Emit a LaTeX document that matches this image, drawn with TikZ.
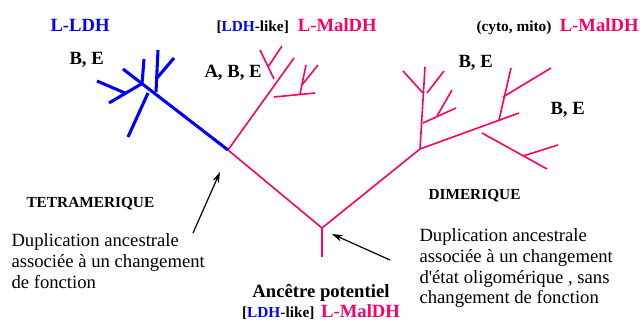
\documentclass[tikz,border=0pt]{standalone}
\usepackage{fontspec}
\setmainfont{Liberation Serif}
\usetikzlibrary{positioning,arrows.meta}
\definecolor{maldh}{RGB}{255,0,102}
\tikzset{every picture/.style={line width=0.75pt}}

\begin{document}
\begin{tikzpicture}[x=0.75pt,y=0.75pt,yscale=-1,xscale=1,
  pinkbr/.style={draw=maldh,line width=1.2pt},
  bluebr/.style={draw=blue,line width=2.3pt},
  bigtxt/.style={anchor=base west,inner sep=0pt,font=\bfseries\fontsize{14}{16}\selectfont},
  smalltxt/.style={anchor=base west,inner sep=0pt,font=\bfseries\fontsize{11.5}{13}\selectfont},
  paratxt/.style={anchor=north west,inner sep=0pt,align=left,font=\fontsize{14}{15.6}\selectfont},
  pointer/.style={draw=black,line width=0.9pt,-{Stealth[length=8pt,width=5pt]}}]
\useasboundingbox (0,0) rectangle (641,323);

%Tree junctions
\coordinate (root) at (322,228);
\coordinate (stem) at (322,257);
\coordinate (jleft) at (228,150);
\coordinate (jright) at (420,149);

%Straight Lines: stem and main branches
\draw [pinkbr] (root) -- (stem);
\draw [pinkbr] (root) -- (jleft);
\draw [pinkbr] (root) -- (jright);

%Straight Lines: A, B, E branch
\draw [pinkbr] (jleft) -- (294,58);
\draw [pinkbr] (260,50) -- (274,79);
\draw [pinkbr] (268,67) -- (282,46);
\draw [pinkbr] (274,97) -- (315,93);
\draw [pinkbr] (306,65) -- (300,94);
\draw [pinkbr] (302,85) -- (318,65);

%Straight Lines: L-LDH branch
\draw [bluebr] (jleft) -- (123,69);
\draw [bluebr] (97,81) -- (125,93);
\draw [bluebr] (109,103) -- (143,83);
\draw [bluebr] (144,59) -- (142,84);
\draw [bluebr] (148,93) -- (128,137);
\draw [bluebr] (158,50) -- (156,92);
\draw [bluebr] (157,78) -- (174,58);

%Straight Lines: cyto, mito branch
\draw [pinkbr] (jright) -- (425,67);
\draw [pinkbr] (403,71) -- (423,93);
\draw [pinkbr] (427,93) -- (444,71);
\draw [pinkbr] (423,123) -- (456,108);
\draw [pinkbr] (437,116) -- (452,90);
\draw [pinkbr] (jright) -- (519,113);
\draw [pinkbr] (499,120) -- (511,68);
\draw [pinkbr] (503,97) -- (551,68);
\draw [pinkbr] (482,133) -- (547,169);
\draw [pinkbr] (523,156) -- (558,145);

% Text Node
\node [bigtxt,text=blue] (lldh) at (50,32) {L-LDH};
% Text Node
\node [smalltxt] (likeA) at (216,32) {[\textcolor{blue}{LDH}-like]};
\node [bigtxt,text=maldh,base right=6pt of likeA] (maldhA) {L-MalDH};
% Text Node
\node [smalltxt] (cyto) at (476,32) {(cyto, mito)};
\node [bigtxt,text=maldh,base right=5.5pt of cyto] (maldhB) {L-MalDH};
% Text Node
\node [bigtxt] (beA) at (69,65) {B, E};
\node [bigtxt] (abe) at (204,78) {A, B, E};
\node [bigtxt] (beB) at (458,68) {B, E};
\node [bigtxt] (beC) at (550,115) {B, E};
% Text Node
\node [smalltxt] (tetra) at (26,208) {TETRAMERIQUE};
\node [smalltxt] (dimer) at (428,200) {DIMERIQUE};
% Text Node
\node [paratxt] (dupA) at (11,233) {Duplication ancestrale\\associée à un changement\\de fonction};
\node [paratxt] (dupB) at (419,228) {Duplication ancestrale\\associée à un changement\\d\textquotesingle état oligomérique , sans\\changement de fonction};
% Text Node
\node [bigtxt,anchor=base] (anc) at (321,298) {Ancêtre potentiel};
\node [anchor=base,inner sep=0pt] (likeB) at (321,317) {\bfseries\fontsize{11.5}{13}\selectfont[\textcolor{blue}{LDH}-like]\hspace{5pt}\fontsize{14}{16}\selectfont\textcolor{maldh}{L-MalDH}};

%Arrows
\coordinate (tailA) at (193,233);
\coordinate (tipA) at (220,172);
\coordinate (tailB) at (390,260);
\coordinate (tipB) at (332,234);
\draw [pointer] (tailA) -- (tipA);
\draw [pointer] (tailB) -- (tipB);

\end{tikzpicture}
\end{document}
